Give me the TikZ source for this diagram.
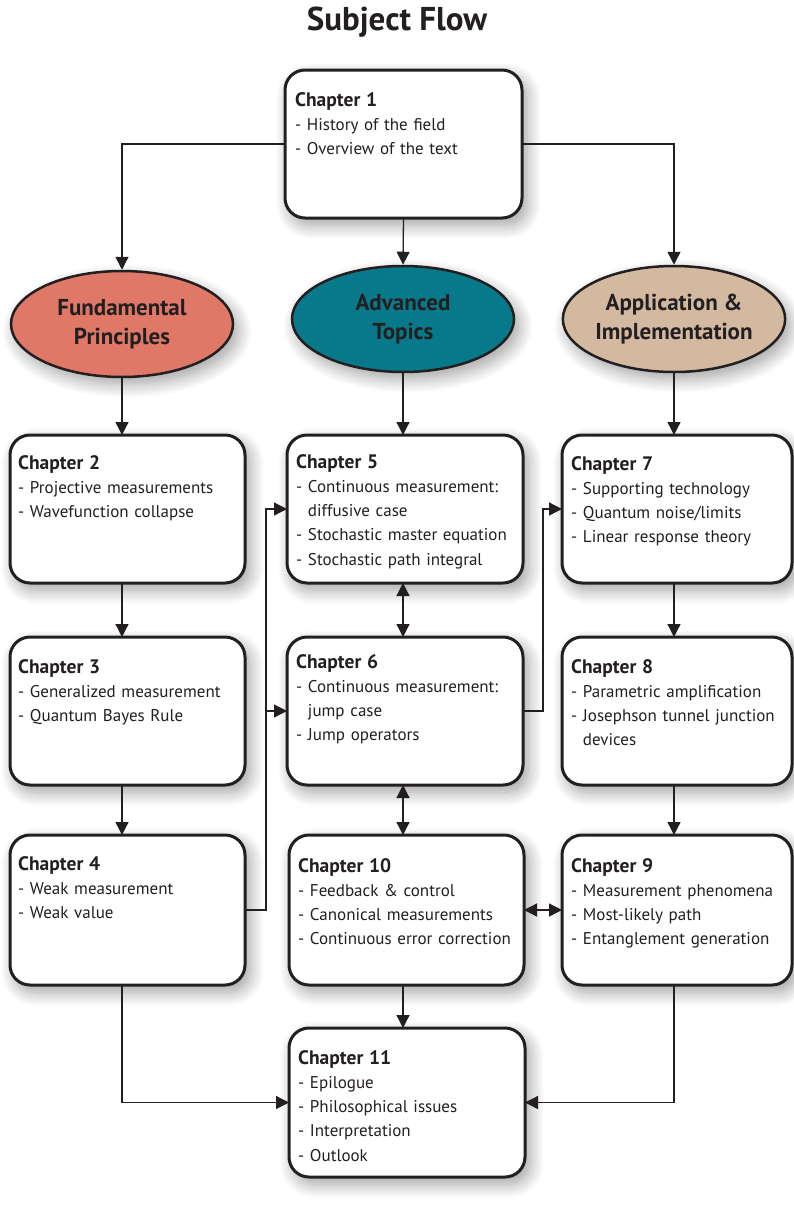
\documentclass[tikz,border=0pt]{standalone}
\usepackage{fontspec}
\setmainfont{PT Sans}
\usetikzlibrary{arrows.meta,shapes.geometric,shadows.blur,calc}
\definecolor{ink}{HTML}{231F20}
\definecolor{fundc}{HTML}{E07868}
\definecolor{advc}{HTML}{07798B}
\definecolor{appc}{HTML}{D4B9A1}
\tikzset{
  softshadow/.style={blur shadow={shadow xshift=5pt,shadow yshift=-7pt,shadow blur radius=14pt,shadow blur steps=14,shadow opacity=38}},
  chapbox/.style={draw=ink,line width=3pt,rounded corners=20pt,fill=white,softshadow,inner sep=0pt,outer sep=0pt},
  chaptext/.style={anchor=base west,inner sep=0pt,text width=232pt,align=left,text=ink,font=\fontsize{17}{24.3}\selectfont},
  topic/.style={ellipse,draw=ink,line width=2.5pt,minimum width=222pt,minimum height=106pt,inner sep=0pt,softshadow,text=ink,align=center,font=\bfseries\fontsize{23}{29}\selectfont},
  arr/.style={draw=ink,line width=1.3pt,-{Triangle[length=13pt,width=13pt]}},
  darr/.style={draw=ink,line width=1.3pt,{Triangle[length=13pt,width=13pt]}-{Triangle[length=13pt,width=13pt]}},
}
\newcommand{\hd}[1]{{\bfseries\fontsize{19.5}{24.3}\selectfont #1}}
\newcommand{\cont}{\phantom{-\ }}
\begin{document}
\begin{tikzpicture}[x=1pt,y=-1pt]
\useasboundingbox (0,0) rectangle (794,1205);
\node[font=\bfseries\fontsize{33}{38}\selectfont,text=ink] (title) at (397,22) {Subject Flow};

% chapter boxes
\node[chapbox,minimum width=237pt,minimum height=148pt] (ch1) at (403.5,144) {};
\node[chapbox,minimum width=235pt,minimum height=148pt] (ch2) at (127.5,509) {};
\node[chapbox,minimum width=235pt,minimum height=148pt] (ch3) at (127.5,711) {};
\node[chapbox,minimum width=235pt,minimum height=150pt] (ch4) at (127.5,910) {};
\node[chapbox,minimum width=236pt,minimum height=148pt] (ch5) at (405,509) {};
\node[chapbox,minimum width=236pt,minimum height=148pt] (ch6) at (405,711) {};
\node[chapbox,minimum width=235pt,minimum height=150pt] (ch10) at (406.5,910) {};
\node[chapbox,minimum width=236pt,minimum height=149pt] (ch11) at (407,1102.5) {};
\node[chapbox,minimum width=230pt,minimum height=148pt] (ch7) at (677,509) {};
\node[chapbox,minimum width=230pt,minimum height=148pt] (ch8) at (677,711) {};
\node[chapbox,minimum width=230pt,minimum height=150pt] (ch9) at (677,910) {};

% topics
\node[topic,fill=fundc] (fund) at (122,324) {Fundamental\\Principles};
\node[topic,fill=advc] (adv) at (403,319) {Advanced\\Topics};
\node[topic,fill=appc] (app) at (674,319) {Application \&\\Implementation};

% texts
\node[chaptext] (t1) at ($(ch1.north west)+(10,36)$) {\hd{Chapter 1}\\- History of the field\\- Overview of the text};
\node[chaptext] (t2) at ($(ch2.north west)+(8,34)$) {\hd{Chapter 2}\\- Projective measurements\\- Wavefunction collapse};
\node[chaptext] (t3) at ($(ch3.north west)+(8,36)$) {\hd{Chapter 3}\\- Generalized measurement\\- Quantum Bayes Rule};
\node[chaptext] (t4) at ($(ch4.north west)+(8,35)$) {\hd{Chapter 4}\\- Weak measurement\\- Weak value};
\node[chaptext] (t5) at ($(ch5.north west)+(9,33)$) {\hd{Chapter 5}\\- Continuous measurement:\\\cont diffusive case\\- Stochastic master equation\\- Stochastic path integral};
\node[chaptext] (t6) at ($(ch6.north west)+(9,31)$) {\hd{Chapter 6}\\- Continuous measurement:\\\cont jump case\\- Jump operators};
\node[chaptext] (t10) at ($(ch10.north west)+(9,37)$) {\hd{Chapter 10}\\- Feedback \& control\\- Canonical measurements\\- Continuous error correction};
\node[chaptext] (t11) at ($(ch11.north west)+(9,36)$) {\hd{Chapter 11}\\- Epilogue\\- Philosophical issues\\- Interpretation\\- Outlook};
\node[chaptext] (t7) at ($(ch7.north west)+(9,35)$) {\hd{Chapter 7}\\- Supporting technology\\- Quantum noise/limits\\- Linear response theory};
\node[chaptext] (t8) at ($(ch8.north west)+(9,36)$) {\hd{Chapter 8}\\- Parametric amplification\\- Josephson tunnel junction\\\cont devices};
\node[chaptext] (t9) at ($(ch9.north west)+(9,37)$) {\hd{Chapter 9}\\- Measurement phenomena\\- Most-likely path\\- Entanglement generation};

% connectors
\draw[arr] (ch1.west) -| (fund.north);
\draw[arr] (ch1.east) -| (app.north);
\draw[arr] (ch1.south) -- (adv.north);
\draw[arr] (fund.south) -- (fund.south |- ch2.north);
\draw[arr] (adv.south) -- (adv.south |- ch5.north);
\draw[arr] (app.south) -- (app.south |- ch7.north);
\draw[arr] (fund.south |- ch2.south) -- (fund.south |- ch3.north);
\draw[arr] (fund.south |- ch3.south) -- (fund.south |- ch4.north);
\draw[arr] (app.south |- ch7.south) -- (app.south |- ch8.north);
\draw[arr] (app.south |- ch8.south) -- (app.south |- ch9.north);
\draw[darr] (adv.south |- ch5.south) -- (adv.south |- ch6.north);
\draw[darr] (adv.south |- ch6.south) -- (adv.south |- ch10.north);
\draw[arr] (adv.south |- ch10.south) -- (adv.south |- ch11.north);
\coordinate (j1) at (266,910);
\coordinate (j2) at (543,711);
\draw[arr] (ch4.east) -- (j1) |- (ch5.west);
\draw[arr] (j1 |- ch6.west) -- (ch6.west);
\draw[arr] (ch6.east) -- (j2) |- (ch7.west);
\draw[darr] (ch10.east) -- (ch9.west |- ch10.east);
\draw[arr] (fund.south |- ch4.south) |- (ch11.west);
\draw[arr] (app.south |- ch9.south) |- (ch11.east);
\end{tikzpicture}
\end{document}
